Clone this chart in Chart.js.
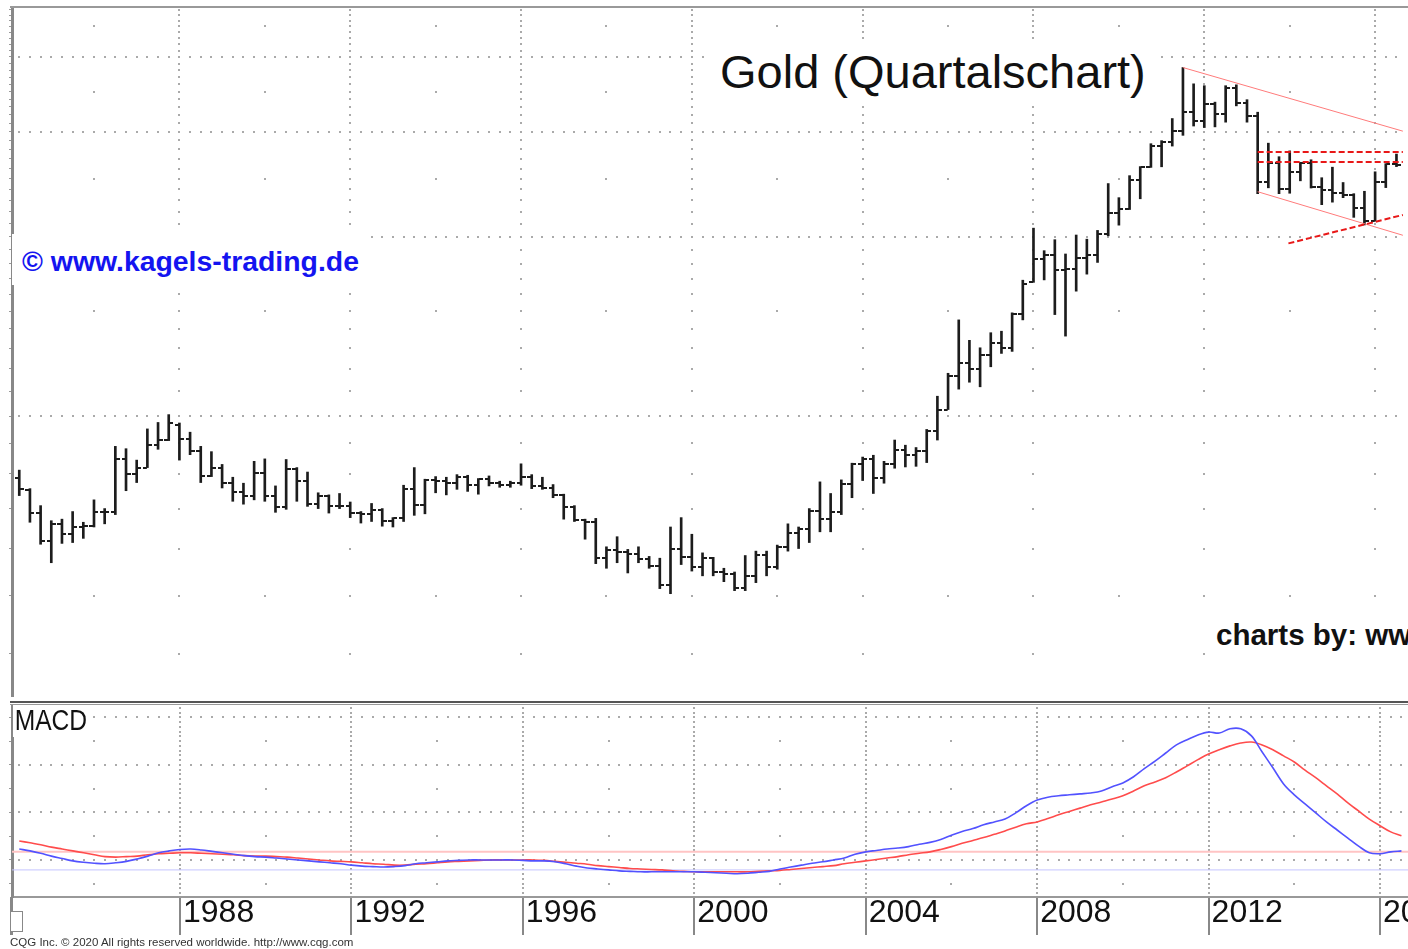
<!DOCTYPE html>
<html lang="de">
<head>
<meta charset="utf-8">
<title>Gold (Quartalschart)</title>
<script src="https://cdn.jsdelivr.net/npm/chart.js@4.4.1/dist/chart.umd.min.js"></script>
<style>
  html, body { margin: 0; padding: 0; background: #fff; }
  #page { position: relative; width: 1408px; height: 949px; overflow: hidden; background: #fff;
          font-family: "Liberation Sans", Arial, Helvetica, sans-serif; }
  canvas { position: absolute; left: 0; }
  #priceChart { top: 0; }
  #macdChart { top: 700px; }
  .rule { position: absolute; }
  .txt { position: absolute; white-space: nowrap; line-height: 1; background: #fff; }
  #title { left: 711px; top: 39px; padding: 9px 8px 9px 9px; font-size: 47px; color: #111; }
  #watermark { left: 12px; top: 234px; padding: 13px 3px 10px 10px; font-size: 28.4px; font-weight: bold; color: #1414f0; }
  #chartsBy { left: 1207px; top: 606px; padding: 14px 0 9px 9px; font-size: 29.5px; font-weight: bold; color: #111; }
  #macdLabel { left: 13px; top: 705px; padding: 0 6px 2px 2px; font-size: 30px; color: #111;
               transform: scaleX(0.82); transform-origin: 0 0; }
  #footer { left: 10px; top: 937px; font-size: 11.5px; color: #333; background: none; }
</style>
</head>
<body>
<div id="page">
  <canvas id="priceChart" width="1408" height="701"></canvas>
  <canvas id="macdChart" width="1408" height="249"></canvas>
  <div class="rule" style="left:10px;top:6px;width:1398px;height:2px;background:#999"></div>
  <div class="rule" style="left:10px;top:701px;width:1398px;height:2px;background:#555"></div>
  <div class="rule" style="left:10px;top:704px;width:1398px;height:1px;background:#999"></div>
  <div class="rule" style="left:10px;top:897px;width:3px;height:38px;background:#888"></div>
  <div class="rule" style="left:10px;top:911px;width:13px;height:21px;border:1px solid #888;box-sizing:border-box;background:#fff"></div>
  <div class="txt" id="title">Gold (Quartalschart)</div>
  <div class="txt" id="watermark">© www.kagels-trading.de</div>
  <div class="txt" id="chartsBy">charts by: www.kagels-trading.de</div>
  <div class="txt" id="macdLabel">MACD</div>
  <div class="txt" id="footer">CQG Inc. © 2020 All rights reserved worldwide. http://www.cqg.com</div>
</div>
<script>
Chart.defaults.font.family = '"Liberation Sans", Arial, sans-serif';
Chart.defaults.animation = false;

// quarterly bars, first bar = 1984 Q2
const firstQuarter = 1984.25;

const opens = [
  394, 376, 344, 309, 330, 317, 326, 327, 345, 345,
  424, 400, 410, 448, 456, 484, 457, 437, 397, 410,
  386, 373, 367, 401, 368, 352, 408, 390, 356, 368,
  354, 353, 344, 343, 348, 333, 337, 378, 355, 391,
  389, 386, 395, 383, 392, 387, 384, 387, 396, 382,
  379, 369, 352, 335, 332, 289, 298, 296, 294, 288,
  280, 261, 299, 290, 279, 289, 274, 272, 258, 270,
  293, 279, 302, 318, 323, 347, 336, 346, 385, 416,
  424, 394, 416, 438, 430, 437, 473, 513, 584, 614,
  599, 632, 663, 650, 743, 840, 916, 930, 880, 884,
  920, 930, 1008, 1097, 1113, 1245, 1307, 1421, 1439, 1502,
  1620, 1565, 1669, 1604, 1773, 1675, 1595, 1234, 1326, 1202,
  1284, 1327, 1210, 1199, 1183, 1172, 1115, 1061, 1233, 1321
];
const highs = [
  406, 378, 354, 334, 336, 346, 332, 362, 350, 445,
  441, 422, 476, 488, 503, 487, 470, 445, 436, 415,
  395, 386, 420, 424, 382, 423, 410, 403, 372, 369,
  371, 359, 346, 357, 350, 338, 383, 410, 392, 396,
  395, 399, 398, 393, 397, 389, 389, 416, 399, 395,
  384, 370, 354, 336, 337, 302, 314, 299, 302, 291,
  289, 326, 338, 317, 295, 290, 278, 274, 292, 297,
  297, 304, 330, 326, 350, 388, 371, 391, 417, 427,
  430, 420, 456, 447, 443, 475, 540, 590, 725, 670,
  651, 690, 694, 745, 845, 1033, 947, 988, 935, 1006,
  990, 1024, 1227, 1162, 1265, 1310, 1431, 1448, 1577, 1920,
  1803, 1790, 1680, 1790, 1796, 1696, 1616, 1434, 1361, 1392,
  1332, 1345, 1255, 1307, 1232, 1180, 1191, 1284, 1325, 1375
];
const lows = [
  368, 332, 305, 284, 306, 307, 312, 326, 330, 342,
  375, 387, 410, 440, 455, 422, 431, 387, 396, 379,
  360, 356, 362, 360, 345, 349, 360, 353, 350, 344,
  350, 338, 331, 333, 327, 326, 333, 341, 343, 372,
  369, 377, 374, 370, 382, 380, 380, 383, 378, 377,
  365, 336, 333, 311, 283, 278, 284, 273, 284, 278,
  257, 252, 282, 275, 270, 270, 264, 255, 255, 263,
  270, 277, 297, 300, 307, 320, 320, 342, 365, 390,
  371, 386, 409, 411, 412, 418, 456, 513, 555, 570,
  560, 605, 637, 642, 725, 838, 846, 740, 681, 810,
  865, 905, 1003, 1045, 1110, 1157, 1306, 1309, 1418, 1478,
  1532, 1523, 1527, 1555, 1656, 1555, 1180, 1207, 1180, 1182,
  1240, 1206, 1131, 1142, 1162, 1077, 1046, 1061, 1208, 1310
];
const closes = [
  377, 344, 309, 330, 317, 326, 327, 345, 345, 424,
  400, 410, 448, 456, 487, 457, 437, 397, 410, 386,
  373, 367, 401, 368, 352, 408, 390, 356, 368, 354,
  353, 344, 343, 348, 333, 337, 378, 355, 391, 389,
  386, 395, 383, 392, 387, 384, 387, 396, 382, 379,
  369, 352, 335, 332, 289, 298, 296, 294, 288, 280,
  261, 299, 290, 279, 289, 274, 272, 258, 270, 293,
  279, 302, 318, 323, 347, 336, 346, 385, 416, 424,
  394, 416, 438, 430, 437, 473, 513, 584, 614, 599,
  632, 663, 650, 743, 834, 916, 930, 880, 884, 920,
  930, 1008, 1097, 1113, 1245, 1307, 1421, 1439, 1502, 1620,
  1565, 1669, 1604, 1773, 1675, 1595, 1234, 1326, 1202, 1284,
  1327, 1210, 1199, 1183, 1172, 1115, 1061, 1233, 1321, 1316
];

// MACD panel, one value per quarter
const macdLine = [
  23, 19, 14, 8, 3, -2, -5, -7, -8, -6,
  -3, 2, 8, 15, 19, 22, 23, 21, 18, 15,
  12, 9, 7, 6, 4, 2, 0, -2, -4, -6,
  -8, -11, -13, -14, -15, -14, -12, -8, -6, -4,
  -2, -1, 0, 0, 0, 0, 0, -1, -2, -2,
  -4, -8, -13, -17, -19, -21, -23, -24, -25, -25,
  -25, -25, -25, -25, -26, -27, -28, -29, -28, -26,
  -24, -19, -15, -11, -7, -4, 0, 4, 12, 17,
  20, 23, 25, 28, 33, 37, 43, 52, 60, 66,
  74, 80, 86, 99, 114, 126, 132, 135, 137, 139,
  141, 145, 154, 162, 175, 192, 208, 225, 242, 253,
  263, 269, 267, 276, 276, 261, 227, 194, 160, 137,
  118, 99, 80, 63, 46, 29, 15, 13, 17, 19
];
const signalLine = [
  40, 36, 32, 27, 23, 19, 15, 11, 7, 6,
  7, 8, 11, 13, 14, 15, 15, 14, 13, 12,
  11, 9, 8, 8, 7, 6, 4, 2, 0, -2,
  -3, -4, -6, -8, -9, -11, -11, -9, -8, -6,
  -4, -3, -2, -1, 0, 0, 0, 0, 0, -1,
  -3, -5, -7, -9, -12, -14, -16, -18, -19, -20,
  -21, -23, -24, -25, -25, -25, -25, -25, -25, -24,
  -23, -22, -20, -18, -16, -14, -12, -8, -5, -2,
  1, 4, 7, 11, 14, 17, 22, 28, 35, 41,
  47, 54, 61, 69, 76, 80, 87, 95, 102, 109,
  116, 122, 128, 135, 145, 156, 164, 173, 185, 198,
  211, 223, 232, 240, 246, 248, 242, 232, 219, 206,
  189, 173, 156, 139, 120, 103, 86, 72, 59, 51
];
const macdRefRed = 17;
const macdRefBlue = -21;

// hand-drawn trend lines [year, price]
const channelTop = [[2011.5, 1920], [2016.65, 1502]];
const channelBottom = [[2013.25, 1189], [2016.65, 1005]];
const resistanceHigh = [[2013.25, 1386], [2016.65, 1386]];
const resistanceLow = [[2013.25, 1334], [2016.65, 1334]];
const risingSupport = [[2013.97, 974], [2016.65, 1087]];

const yearTicks = [1988, 1992, 1996, 2000, 2004, 2008, 2012, 2016];
const priceGridMajor = [500, 1000, 1500, 2000];
const priceGridMinor = [250, 750, 1250, 1750, 2250];
const macdGridMajor = [0, 100, 200, 300];
const macdGridMinor = [-50, 50, 150, 250];

const xMin = 1984.08, xMax = 2016.653;
const priceMin = 169.8, priceMax = 2416;
const macdMin = -78, macdMax = 326;

const quarterX = i => firstQuarter + i * 0.25;
const range = (a, b, step) => { const r = []; for (let v = a; v <= b + 1e-9; v += step) r.push(v); return r; };
const priceDotLevels = range(200, 2400, 50);
const macdDotLevels = range(-70, 320, 10);
const toPoints = pts => pts.map(p => ({ x: p[0], y: p[1] }));

// CQG style dotted grid
const dotGrid = {
  id: 'dotGrid',
  beforeDatasetsDraw(chart, args, o) {
    const { ctx, chartArea: a, scales: { x, y } } = chart;
    ctx.save();
    ctx.beginPath();
    ctx.rect(a.left, a.top, a.right - a.left, a.bottom - a.top);
    ctx.clip();
    ctx.fillStyle = o.color;
    const dot = (px, py) => ctx.fillRect(Math.round(px) - 1, Math.round(py) - 1, 2, 2);
    const quarters = range(Math.ceil(x.min * 4) / 4, x.max, 0.25);
    o.hMajor.forEach(v => {
      const py = y.getPixelForValue(v);
      quarters.forEach(t => dot(x.getPixelForValue(t), py));
    });
    for (let yr = 1984; yr <= x.max; yr += 4) {
      const px = x.getPixelForValue(yr);
      o.vDots.forEach(v => dot(px, y.getPixelForValue(v)));
      const mx = x.getPixelForValue(yr + 2);
      o.hMinor.forEach(v => dot(mx, y.getPixelForValue(v)));
    }
    ctx.restore();
  }
};

function tickMark(side) {
  const c = document.createElement('canvas');
  c.width = 9;
  c.height = 2;
  const g = c.getContext('2d');
  g.fillStyle = '#1c1c1c';
  g.fillRect(side === 'open' ? 0 : 5, 0, 4, 2);
  return c;
}

function trendLine(pts, color, width, dash) {
  return {
    type: 'line', data: toPoints(pts), borderColor: color, borderWidth: width,
    borderDash: dash, pointRadius: 0, tension: 0, fill: false
  };
}

function leftAxis(extra) {
  return Object.assign({
    afterFit: s => { s.width = 12; },
    ticks: { display: false },
    grid: { drawOnChartArea: false, drawTicks: true, tickLength: 3, color: '#999' },
    border: { display: true, color: '#888', width: 3 }
  }, extra);
}

function timeAxis(extra) {
  return Object.assign({
    type: 'linear', min: xMin, max: xMax, offset: false,
    afterBuildTicks: s => { s.ticks = yearTicks.map(v => ({ value: v })); }
  }, extra);
}

new Chart(document.getElementById('priceChart'), {
  type: 'bar',
  data: {
    datasets: [
      trendLine(resistanceHigh, '#e81818', 2, [6, 3]),
      trendLine(resistanceLow, '#e81818', 2, [6, 3]),
      trendLine(risingSupport, '#e81818', 2, [6, 3]),
      trendLine(channelTop, '#ff7b7b', 1, []),
      trendLine(channelBottom, '#ff7b7b', 1, []),
      {
        type: 'line', showLine: false, pointStyle: tickMark('open'), pointRadius: 1,
        data: opens.map((v, i) => ({ x: quarterX(i), y: v }))
      },
      {
        type: 'line', showLine: false, pointStyle: tickMark('close'), pointRadius: 1,
        data: closes.map((v, i) => ({ x: quarterX(i), y: v }))
      },
      {
        type: 'bar', backgroundColor: '#1c1c1c', borderWidth: 0, barThickness: 2,
        data: highs.map((h, i) => ({ x: quarterX(i), y: [lows[i], h] }))
      }
    ]
  },
  options: {
    responsive: false,
    events: [],
    layout: { padding: { top: 8, right: 0, bottom: 0, left: 0 } },
    plugins: {
      legend: { display: false },
      tooltip: { enabled: false },
      dotGrid: { color: '#aaa', hMajor: priceGridMajor, hMinor: priceGridMinor, vDots: priceDotLevels }
    },
    scales: {
      x: timeAxis({ display: false }),
      y: leftAxis({
        type: 'logarithmic', min: priceMin, max: priceMax,
        afterBuildTicks: s => { s.ticks = priceDotLevels.map(v => ({ value: v })); }
      })
    }
  },
  plugins: [dotGrid]
});

new Chart(document.getElementById('macdChart'), {
  type: 'line',
  data: {
    datasets: [
      { data: macdLine.map((v, i) => ({ x: quarterX(i), y: v })), borderColor: '#5252ff', borderWidth: 1.6, pointRadius: 0, tension: 0.35 },
      { data: signalLine.map((v, i) => ({ x: quarterX(i), y: v })), borderColor: '#ff4c4c', borderWidth: 1.6, pointRadius: 0, tension: 0.35 },
      { data: [{ x: xMin, y: macdRefRed }, { x: xMax, y: macdRefRed }], borderColor: '#ffc4c4', borderWidth: 2, pointRadius: 0 },
      { data: [{ x: xMin, y: macdRefBlue }, { x: xMax, y: macdRefBlue }], borderColor: '#c4c4ff', borderWidth: 1, pointRadius: 0 }
    ]
  },
  options: {
    responsive: false,
    events: [],
    layout: { padding: { top: 5, right: 0, bottom: 0, left: 0 } },
    plugins: {
      legend: { display: false },
      tooltip: { enabled: false },
      dotGrid: { color: '#aaa', hMajor: macdGridMajor, hMinor: macdGridMinor, vDots: macdDotLevels }
    },
    scales: {
      x: timeAxis({
        position: 'bottom',
        afterFit: s => { s.height = 52; s.paddingLeft = 0; s.paddingRight = 0; },
        ticks: {
          autoSkip: false, maxRotation: 0, minRotation: 0, align: 'start', labelOffset: 3,
          padding: -41, color: '#111', font: { size: 32 }, callback: v => String(v)
        },
        grid: { drawOnChartArea: false, drawTicks: true, tickLength: 38, color: '#888', lineWidth: 2 },
        border: { display: true, color: '#999', width: 2 }
      }),
      y: leftAxis({
        type: 'linear', min: macdMin, max: macdMax,
        afterBuildTicks: s => { s.ticks = range(-50, 300, 50).map(v => ({ value: v })); }
      })
    }
  },
  plugins: [dotGrid]
});
</script>
</body>
</html>
